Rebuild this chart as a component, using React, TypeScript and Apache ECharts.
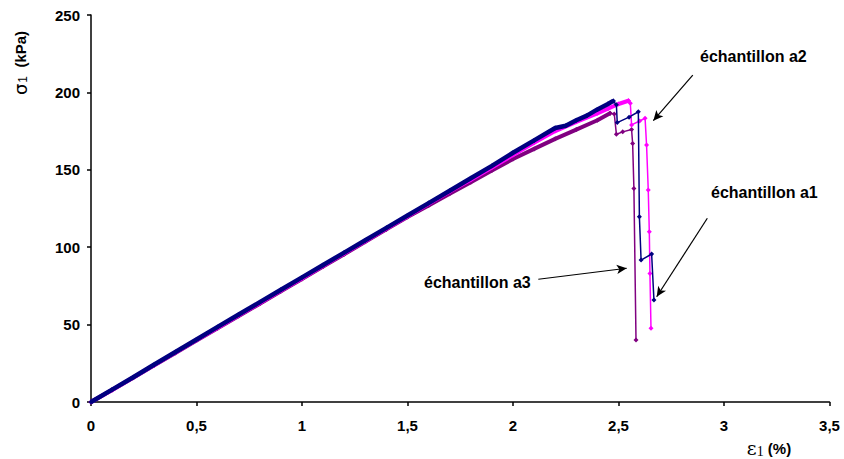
import React, { useEffect, useRef } from "react";
import * as echarts from "echarts";

// Readings [ε1 (%), σ1 (kPa)] from the picture
const a1Rise: [number, number][] = [
  [0, 0], [0.1, 8], [0.2, 16], [0.3, 24.2], [0.4, 32.3], [0.5, 40.4], [0.6, 48.5], [0.7, 56.5],
  [0.8, 64.5], [0.9, 72.5], [1.0, 80.5], [1.1, 88.5], [1.2, 96.5], [1.3, 104.5], [1.4, 112.5],
  [1.5, 120.5], [1.6, 128.5], [1.7, 136.5], [1.8, 144.5], [1.9, 152.5], [2.0, 161], [2.1, 169],
  [2.2, 177], [2.25, 178.5], [2.3, 182], [2.35, 185], [2.4, 189], [2.45, 192.5], [2.475, 194.5],
];
const a1Drop: [number, number][] = [
  [2.475, 194.5], [2.49, 192], [2.494, 180.5], [2.55, 184], [2.594, 187.5], [2.599, 119.7],
  [2.607, 91.7], [2.657, 95.6], [2.668, 65.9],
];
const a2Rise: [number, number][] = [
  [0, 0], [0.1, 7.8], [0.2, 15.8], [0.3, 23.9], [0.4, 32], [0.5, 40], [0.6, 48], [0.7, 56],
  [0.8, 64], [0.9, 72], [1.0, 80], [1.1, 88], [1.2, 96], [1.3, 104], [1.4, 112], [1.5, 120],
  [1.6, 128], [1.7, 136], [1.8, 143.5], [1.9, 151.5], [2.0, 159.5], [2.1, 167.5], [2.2, 175],
  [2.3, 181], [2.4, 186.5], [2.45, 189.5], [2.5, 192.5], [2.547, 194.6],
];
const a2Drop: [number, number][] = [
  [2.547, 194.6], [2.556, 193], [2.562, 179], [2.6, 181.5], [2.626, 183.3], [2.633, 166],
  [2.641, 137], [2.646, 110], [2.649, 83], [2.654, 47.6],
];
const a3Rise: [number, number][] = [
  [0, 0], [0.1, 7.8], [0.2, 15.7], [0.3, 23.7], [0.4, 31.7], [0.5, 39.7], [0.6, 47.7], [0.7, 55.5],
  [0.8, 63.5], [0.9, 71.5], [1.0, 79.5], [1.1, 87.5], [1.2, 95.5], [1.3, 103.5], [1.4, 111.5],
  [1.5, 119.5], [1.6, 127], [1.7, 134.5], [1.8, 142], [1.9, 149.5], [2.0, 157], [2.1, 163.5],
  [2.2, 170], [2.3, 176], [2.4, 182], [2.46, 186.5],
];
const a3Drop: [number, number][] = [
  [2.46, 186.5], [2.48, 186], [2.49, 173], [2.52, 174.5], [2.562, 176], [2.567, 167],
  [2.573, 138], [2.583, 40],
];

const xTicks = { min: 0, max: 3.5, interval: 0.5 };
const yTicks = { min: 0, max: 250, interval: 50 };

// annotation arrows, in data coordinates [from, to]
const arrows: [[number, number], [number, number]][] = [
  [[2.852, 211.2], [2.665, 181.7]],
  [[2.921, 118.7], [2.681, 68]],
  [[2.12, 79.3], [2.539, 86.4]],
];
const labels = ["échantillon a2", "échantillon a1", "échantillon a3"];

const colors = { a1: "#000080", a2: "#FF00FF", a3: "#800080" };

export default function App() {
  const ref = useRef<HTMLDivElement>(null);
  useEffect(() => {
    document.body.style.margin = "0";
    const chart = echarts.init(ref.current!, undefined, { renderer: "svg" });
    const mk = (name: string, data: [number, number][], color: string, w: number, z: number, s: number) => ({
      name,
      type: "line",
      data,
      z,
      symbol: "diamond",
      symbolSize: s,
      itemStyle: { color },
      lineStyle: { color, width: w },
      emphasis: { disabled: true },
    });
    const lblFont = { fontFamily: "Liberation Sans, Arial, sans-serif", fontWeight: "bold", fontSize: 16, fill: "#000" };
    chart.setOption({
      animation: false,
      backgroundColor: "#fff",
      grid: { left: 91, right: 14.5, top: 15, bottom: 57, containLabel: false },
      xAxis: {
        type: "value",
        ...xTicks,
        axisLine: { lineStyle: { color: "#000", width: 1.5 } },
        axisTick: { show: true, length: 4, lineStyle: { color: "#000", width: 1.5 } },
        splitLine: { show: false },
        axisLabel: {
          color: "#000",
          fontFamily: "Liberation Sans, Arial, sans-serif",
          fontWeight: "bold",
          fontSize: 15,
          margin: 16,
          formatter: (v: number) => String(v).replace(".", ","),
        },
      },
      yAxis: {
        type: "value",
        ...yTicks,
        axisLine: { show: true, lineStyle: { color: "#000", width: 1.5 } },
        axisTick: { show: true, length: 4, lineStyle: { color: "#000", width: 1.5 } },
        splitLine: { show: false },
        axisLabel: {
          color: "#000",
          fontFamily: "Liberation Sans, Arial, sans-serif",
          fontWeight: "bold",
          fontSize: 15,
          margin: 11,
        },
      },
      series: [
        mk("a3", a3Rise, colors.a3, 4, 2, 5),
        mk("a3d", a3Drop, colors.a3, 1.5, 2, 5),
        mk("a2", a2Rise, colors.a2, 4, 3, 5),
        mk("a2d", a2Drop, colors.a2, 1.5, 3, 5),
        mk("a1", a1Rise, colors.a1, 4.5, 4, 5),
        {
          ...mk("a1d", a1Drop, colors.a1, 1.5, 4, 5),
          markLine: {
            silent: true,
            symbol: ["none", "arrow"],
            symbolSize: [7, 10],
            label: { show: false },
            lineStyle: { color: "#000", width: 1.2, type: "solid" },
            data: arrows.map(([a, b]) => [{ coord: a }, { coord: b }]),
          },
        },
      ],
      graphic: [
        { type: "text", x: 700, y: 56, style: { ...lblFont, text: labels[0], verticalAlign: "middle" } },
        { type: "text", x: 711, y: 192, style: { ...lblFont, text: labels[1], verticalAlign: "middle" } },
        { type: "text", x: 424, y: 282, style: { ...lblFont, text: labels[2], verticalAlign: "middle" } },
        {
          type: "text",
          x: 20,
          y: 63,
          rotation: Math.PI / 2,
          style: {
            text: "{s|σ}{sub|1}{n|  (kPa)}",
            align: "center",
            verticalAlign: "middle",
            fill: "#000",
            rich: {
              s: { fontFamily: "DejaVu Sans, sans-serif", fontSize: 18, fill: "#000" },
              sub: { fontFamily: "Liberation Sans, Arial", fontSize: 12, fill: "#000", padding: [6, 0, 0, 1] },
              n: { fontFamily: "Liberation Sans, Arial", fontWeight: "bold", fontSize: 15, fill: "#000" },
            },
          },
        },
        {
          type: "text",
          x: 769,
          y: 448,
          style: {
            text: "{e|ε}{sub|1}{n| (%)}",
            align: "center",
            verticalAlign: "middle",
            fill: "#000",
            rich: {
              e: { fontFamily: "DejaVu Serif, serif", fontSize: 19, fill: "#000" },
              sub: { fontFamily: "Liberation Serif, serif", fontSize: 14, fill: "#000", padding: [7, 0, 0, 0] },
              n: { fontFamily: "Liberation Sans, Arial", fontWeight: "bold", fontSize: 15, fill: "#000" },
            },
          },
        },
      ],
    });
    return () => chart.dispose();
  }, []);
  return <div ref={ref} style={{ width: 844, height: 459 }} />;
}
